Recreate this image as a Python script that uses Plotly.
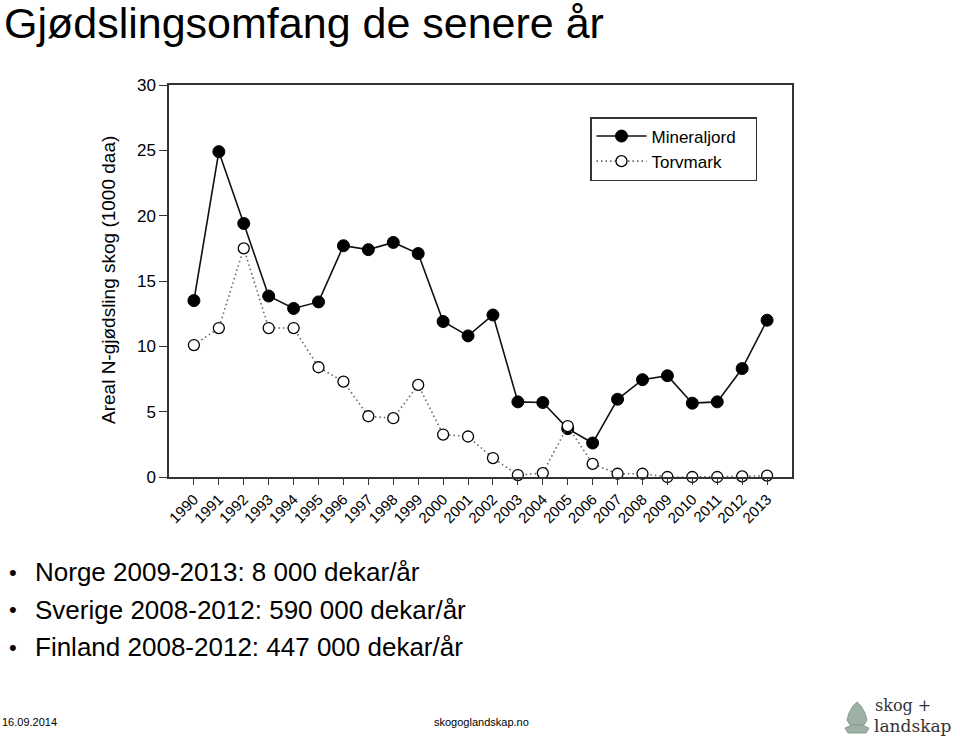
import plotly.graph_objects as go

years = list(range(1990, 2014))
mineraljord = [13.5, 24.9, 19.4, 13.85, 12.9, 13.4, 17.7, 17.4, 17.95, 17.1, 11.9,
               10.8, 12.4, 5.75, 5.7, 3.7, 2.6, 5.95, 7.45, 7.75, 5.65, 5.75, 8.3, 12.0]
torvmark = [10.1, 11.4, 17.5, 11.4, 11.4, 8.4, 7.3, 4.65, 4.5, 7.05, 3.25,
            3.1, 1.45, 0.15, 0.3, 3.9, 1.0, 0.25, 0.25, 0.0, 0.0, 0.0, 0.05, 0.1]
tick_labels = [str(y) for y in years]
y_ticks = [0, 5, 10, 15, 20, 25, 30]

title_text = "Gjødslingsomfang de senere år"
y_title = "Areal N-gjødsling skog (1000 daa)"
bullets = ["Norge 2009-2013: 8 000 dekar/år",
           "Sverige 2008-2012: 590 000 dekar/år",
           "Finland 2008-2012: 447 000 dekar/år"]
footer_date = "16.09.2014"
footer_url = "skogoglandskap.no"

W, H = 960, 738
L, R, T, B = 169, 792, 85, 477
PW, PH = R - L, B - T


def px(x):
    return (x - L) / PW


def py(y):
    return (B - y) / PH


FONT = "Liberation Sans, Arial, sans-serif"
NB = "\u00a0"

fig = go.Figure()
fig.add_trace(go.Scatter(
    x=years, y=mineraljord, name="Mineraljord" + NB * 3, mode="lines+markers",
    line=dict(color="#111111", width=1.6),
    marker=dict(symbol="circle", size=12, color="#000000",
                line=dict(color="#000000", width=1)),
    cliponaxis=False))
fig.add_trace(go.Scatter(
    x=years, y=torvmark, name="Torvmark", mode="lines+markers",
    line=dict(color="#666666", width=1.6, dash="1.5px,3px"),
    marker=dict(symbol="circle", size=11, color="#ffffff",
                line=dict(color="#000000", width=1.3)),
    cliponaxis=False))


def ann(text, x, y, xanchor="left", yanchor="middle", size=12,
        family=FONT, color="#000000", **kw):
    return dict(text=text, x=px(x), y=py(y), xref="paper", yref="paper",
                xanchor=xanchor, yanchor=yanchor, showarrow=False,
                font=dict(family=family, size=size, color=color), **kw)


annotations = [
    ann(title_text, 2, -3, yanchor="top", size=43),
    ann(y_title, 108, 280, xanchor="center", size=19, textangle=-90),
    ann(footer_date, 0, 722, size=11),
    ann(footer_url, 481, 722, xanchor="center", size=11),
    ann("skog +", 873, 705, size=16, family="DejaVu Serif, serif", color="#333333"),
    ann("landskap", 872, 725.5, size=17, family="DejaVu Serif, serif", color="#333333"),
]
for i, b in enumerate(bullets):
    ycen = 572 + i * 37.5
    annotations.append(ann("•", 7, ycen, size=22))
    annotations.append(ann(b, 33, ycen, size=26))


def path_from(points):
    s = "M " + " L ".join(f"{px(a):.5f},{py(b):.5f}" for a, b in points) + " Z"
    return s


tree = [(857, 702), (861, 706), (865, 713), (867, 720), (864, 725), (850, 725),
        (847, 720), (849, 713), (853, 706)]
base = [(845, 728), (852, 725), (862, 725), (869, 728), (866, 733), (848, 733)]
shapes = [
    dict(type="path", xref="paper", yref="paper", path=path_from(tree),
         fillcolor="#9fb0a6", line=dict(color="#8a9c92", width=1)),
    dict(type="path", xref="paper", yref="paper", path=path_from(base),
         fillcolor="#9fb0a6", line=dict(color="#8a9c92", width=1)),
]

fig.update_layout(
    width=W, height=H, autosize=False,
    margin=dict(l=L, r=W - R, t=T, b=H - B, pad=0),
    paper_bgcolor="#ffffff", plot_bgcolor="#ffffff",
    font=dict(family=FONT, color="#000000"),
    showlegend=True,
    legend=dict(x=px(590), y=py(117), xanchor="left", yanchor="top",
                bordercolor="#333333", borderwidth=1.5, bgcolor="#ffffff",
                font=dict(family=FONT, size=17, color="#000000"),
                itemwidth=50, tracegroupgap=0),
    annotations=annotations,
    shapes=shapes,
)
fig.update_xaxes(range=[1989, 2014], tickvals=years, ticktext=tick_labels,
                 tickangle=-45, ticks="outside", ticklen=6, tickwidth=1.2,
                 tickcolor="#333333", showline=True, linecolor="#333333",
                 linewidth=1.5, mirror=True, showgrid=False, zeroline=False,
                 tickfont=dict(family=FONT, size=15, color="#000000"))
fig.update_yaxes(range=[0, 30], tickvals=y_ticks, ticks="outside", ticklen=8,
                 tickwidth=1.2, tickcolor="#333333", showline=True,
                 linecolor="#333333", linewidth=1.5, mirror=True, showgrid=False,
                 zeroline=False,
                 tickfont=dict(family=FONT, size=17, color="#000000"))

fig.write_html("out.html")
